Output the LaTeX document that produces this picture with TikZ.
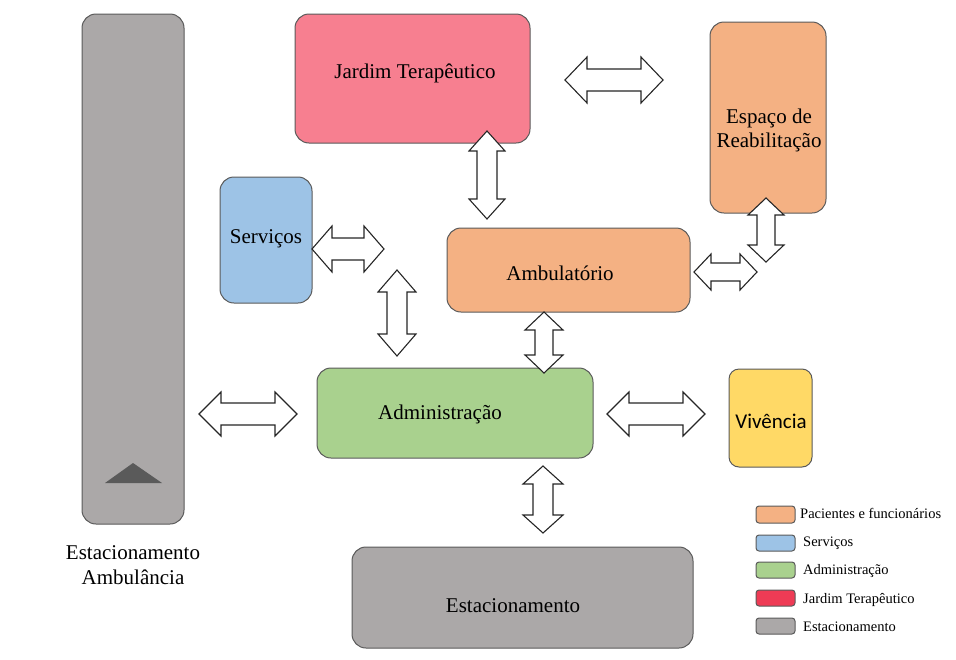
\documentclass[tikz,border=0pt]{standalone}
\usepackage{fontspec}
\setmainfont{Liberation Serif}
\newfontfamily\vivfont{Carlito}
\definecolor{cgray}{HTML}{ABA8A8}
\definecolor{cpink}{HTML}{F77F90}
\definecolor{corange}{HTML}{F4B183}
\definecolor{cblue}{HTML}{9DC3E6}
\definecolor{cgreen}{HTML}{A9D18E}
\definecolor{cyellow}{HTML}{FFD966}
\definecolor{cred}{HTML}{EE3B55}
\definecolor{cborder}{HTML}{5A5A5A}
\newcommand\harrow[7]{% name x1 x2 cy H S L
  \draw[blockarr] (#2,#4) -- (#2+#7,#4-#5) -- (#2+#7,#4-#6) -- (#3-#7,#4-#6) -- (#3-#7,#4-#5) -- (#3,#4) -- (#3-#7,#4+#5) -- (#3-#7,#4+#6) -- (#2+#7,#4+#6) -- (#2+#7,#4+#5) -- cycle;
  \coordinate (#1) at ({(#2+#3)/2},#4);}
\newcommand\varrow[7]{% name y1 y2 cx H S L
  \draw[blockarr] (#4,#2) -- (#4-#5,#2+#7) -- (#4-#6,#2+#7) -- (#4-#6,#3-#7) -- (#4-#5,#3-#7) -- (#4,#3) -- (#4+#5,#3-#7) -- (#4+#6,#3-#7) -- (#4+#6,#2+#7) -- (#4+#5,#2+#7) -- cycle;
  \coordinate (#1) at (#4,{(#2+#3)/2});}
\begin{document}
\begin{tikzpicture}[x=1pt,y=-1pt,
  box/.style={draw=cborder,line width=1pt,rounded corners=14pt},
  blockarr/.style={draw=black!85,fill=white,line width=1.1pt,line join=miter},
  lbl/.style={font=\fontsize{21}{25}\selectfont,align=center,inner sep=0pt},
  swatch/.style={draw=cborder,line width=1pt,rounded corners=3pt},
  legtxt/.style={font=\fontsize{14.5}{16}\selectfont,anchor=west,inner sep=0pt}]
\useasboundingbox (0,0) rectangle (956,659);
% boxes
\draw[box,fill=cgray] (82,14) rectangle (184,524);
\fill[cborder] (105,483) -- (133,463) -- (162,483) -- cycle;
\node[lbl] (estamb) at (133,565) {Estacionamento\\Ambulância};
\draw[box,fill=cpink] (295,14) rectangle (530,143);
\node[lbl] (jardim) at (415,73) {Jardim Terapêutico};
\draw[box,fill=corange] (710,22) rectangle (826,213);
\node[lbl,font=\fontsize{21}{24}\selectfont] (espaco) at (769,130) {Espaço de\\Reabilitação};
\draw[box,fill=cblue] (220,177) rectangle (312,303);
\node[lbl] (serv) at (266,239) {Serviços};
\draw[box,fill=corange] (447,228) rectangle (690,312);
\node[lbl] (ambu) at (560,273) {Ambulatório};
\draw[box,fill=cgreen] (317,368) rectangle (593,458);
\node[lbl] (admin) at (440,414) {Administração};
\draw[box,fill=cyellow,rounded corners=10pt] (729,369) rectangle (812,467);
\node[lbl,font=\vivfont\fontsize{21}{25}\selectfont] (viv) at (771,421) {Vivência};
\draw[box,fill=cgray] (352,547) rectangle (693,648);
\node[lbl] (estac) at (513,606) {Estacionamento};
% arrows
\harrow{a1}{565}{663}{80}{23}{11}{22}
\varrow{a2}{131}{219}{487}{18}{10}{20}
\harrow{a3}{312}{384}{249}{23}{11}{20}
\varrow{a4}{270}{356}{397}{19}{10}{22}
\harrow{a5}{694}{757}{272}{18}{9}{17}
\varrow{a6}{198}{262}{766}{18}{9}{17}
\varrow{a7}{312}{373}{544}{19}{9}{18}
\harrow{a8}{199}{297}{414}{22}{11}{22}
\harrow{a9}{607}{705}{414}{22}{11}{22}
\varrow{a10}{466}{533}{543}{20}{10}{18}
% legend
\draw[swatch,fill=corange] (756,506) rectangle (795,523);
\node[legtxt] (l1) at (800,513) {Pacientes e funcionários};
\draw[swatch,fill=cblue] (756,535) rectangle (795,551);
\node[legtxt] (l2) at (803,543) {Serviços};
\draw[swatch,fill=cgreen] (756,562) rectangle (795,578);
\node[legtxt] (l3) at (803,571) {Administração};
\draw[swatch,fill=cred] (756,590) rectangle (795,606);
\node[legtxt] (l4) at (803,600) {Jardim Terapêutico};
\draw[swatch,fill=cgray] (756,618) rectangle (795,634);
\node[legtxt] (l5) at (803,627) {Estacionamento};
\end{tikzpicture}
\end{document}
